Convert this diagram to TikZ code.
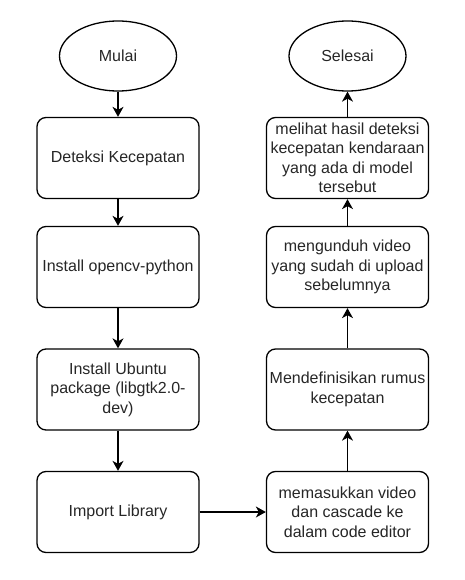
\documentclass[tikz,border=0pt]{standalone}
\usepackage{fontspec}
\setmainfont{Liberation Sans}
\usetikzlibrary{shapes.geometric,arrows.meta}

\begin{document}
\begin{tikzpicture}[x=1pt,y=-1pt,>={Stealth[length=10pt,width=11pt,inset=3pt]},
        line width=1.3pt,font=\fontsize{16}{19.5}\selectfont,
        proses/.style={draw,rounded corners=9pt,minimum width=162pt,minimum height=81pt,
            align=center,inner sep=0pt,text=black!85},
        terminal/.style={draw,ellipse,minimum width=117pt,minimum height=70pt,
            inner sep=0pt,text=black!85}]
        \useasboundingbox (0,0) rectangle (464,580);
        % kolom kiri
        \node [terminal] (mulai) at (118,56) {Mulai};
        \node [proses] (deteksi) at (118,158) {Deteksi Kecepatan};
        \node [proses] (opencv) at (118,267) {Install opencv-python};
        \node [proses] (ubuntu) at (118,389.5) {Install Ubuntu\\ package (libgtk2.0-\\ dev)};
        \node [proses] (import) at (118,512) {Import Library};
        % kolom kanan
        \node [terminal] (selesai) at (347.5,56) {Selesai};
        \node [proses] (melihat) at (347.5,158) {melihat hasil deteksi\\ kecepatan kendaraan\\ yang ada di model\\ tersebut};
        \node [proses] (unduh) at (347.5,267) {mengunduh video\\ yang sudah di upload\\ sebelumnya};
        \node [proses] (rumus) at (347.5,389.5) {Mendefinisikan rumus\\ kecepatan};
        \node [proses] (masuk) at (347.5,512) {memasukkan video\\ dan cascade ke\\ dalam code editor};

        \draw [->] (mulai) -- (deteksi);
        \draw [->] (deteksi) -- (opencv);
        \draw [->] (opencv) -- (ubuntu);
        \draw [->] (ubuntu) -- (import);
        \draw [->] (import) -- (masuk);
        \draw [->] (masuk) -- (rumus);
        \draw [->] (rumus) -- (unduh);
        \draw [->] (unduh) -- (melihat);
        \draw [->] (melihat) -- (selesai);
    \end{tikzpicture}
\end{document}
